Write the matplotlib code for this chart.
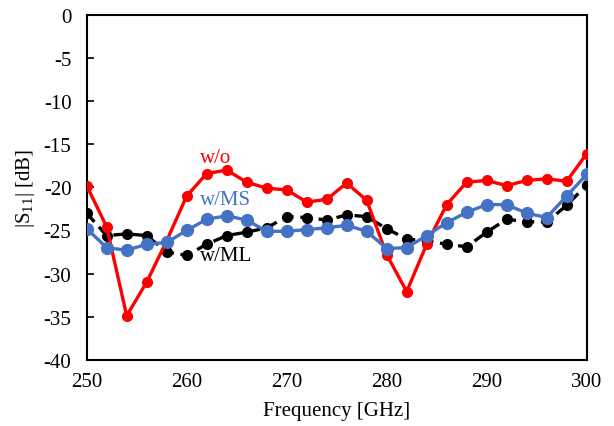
import matplotlib
matplotlib.use("Agg")
import matplotlib.pyplot as plt

freq = list(range(250, 301, 2))
s11_wo = [-19.8, -24.6, -34.9, -31.0, -26.2, -21.0, -18.4, -18.0, -19.4, -20.1,
          -20.3, -21.7, -21.4, -19.5, -21.5, -27.8, -32.1, -26.6, -22.0, -19.4,
          -19.2, -19.8, -19.2, -19.0, -19.3, -16.1]
s11_ms = [-24.8, -27.0, -27.3, -26.6, -26.4, -25.0, -23.7, -23.3, -23.8, -25.1,
          -25.1, -24.9, -24.7, -24.4, -25.1, -27.1, -27.0, -25.6, -24.1, -22.9,
          -22.0, -22.0, -23.0, -23.5, -21.0, -18.5]
s11_ml = [-23.0, -25.6, -25.4, -25.6, -27.5, -27.9, -26.6, -25.6, -25.2, -24.7,
          -23.4, -23.5, -23.8, -23.2, -23.4, -24.8, -26.0, -26.2, -26.6, -26.9,
          -25.2, -23.7, -24.0, -24.0, -22.1, -19.7]
yticks = list(range(-40, 1, 5))
xticks = [250, 260, 270, 280, 290, 300]

plt.rcParams['font.family'] = ['Liberation Serif', 'DejaVu Serif']
plt.rcParams['axes.unicode_minus'] = False
plt.rcParams['mathtext.fontset'] = 'custom'
plt.rcParams['mathtext.rm'] = 'Liberation Serif'
plt.rcParams['mathtext.it'] = 'Liberation Serif:italic'

fig = plt.figure(figsize=(6.14, 4.27), dpi=100)
ax = fig.add_axes([0.1412, 0.1553, 0.8143, 0.8072])

ax.plot(freq, s11_ml, color='black', lw=2.4, dashes=(3.5, 2), marker='o',
        markersize=7, zorder=2)
ax.plot(freq, s11_wo, color='#FF0000', lw=2.4, marker='o', markersize=7, zorder=3)
ax.plot(freq, s11_ms, color='#4472C4', lw=2.4, marker='o', markersize=8.5, zorder=4)

ax.text(262.9, -16.5, 'w/o', color='#FF0000', fontsize=15, ha='center', va='center')
ax.text(263.9, -21.4, 'w/MS', color='#4472C4', fontsize=15, ha='center', va='center')
ax.text(263.9, -27.9, 'w/ML', color='black', fontsize=15, ha='center', va='center')

ax.set_xlim(250, 300)
ax.set_ylim(-40, 0)
ax.set_xticks(xticks)
ax.set_yticks(yticks)
ax.tick_params(axis='x', length=0, labelsize=15, pad=9)
ax.tick_params(axis='y', direction='in', length=5, width=1.2, labelsize=15, pad=11)
for s in ax.spines.values():
    s.set_linewidth(1.5)
ax.set_xlabel('Frequency [GHz]', fontsize=15, labelpad=7)
ax.set_ylabel(r'|S$_{\mathrm{11}}$| [dB]', fontsize=15, labelpad=5)

fig.savefig('out.png', dpi=100)
